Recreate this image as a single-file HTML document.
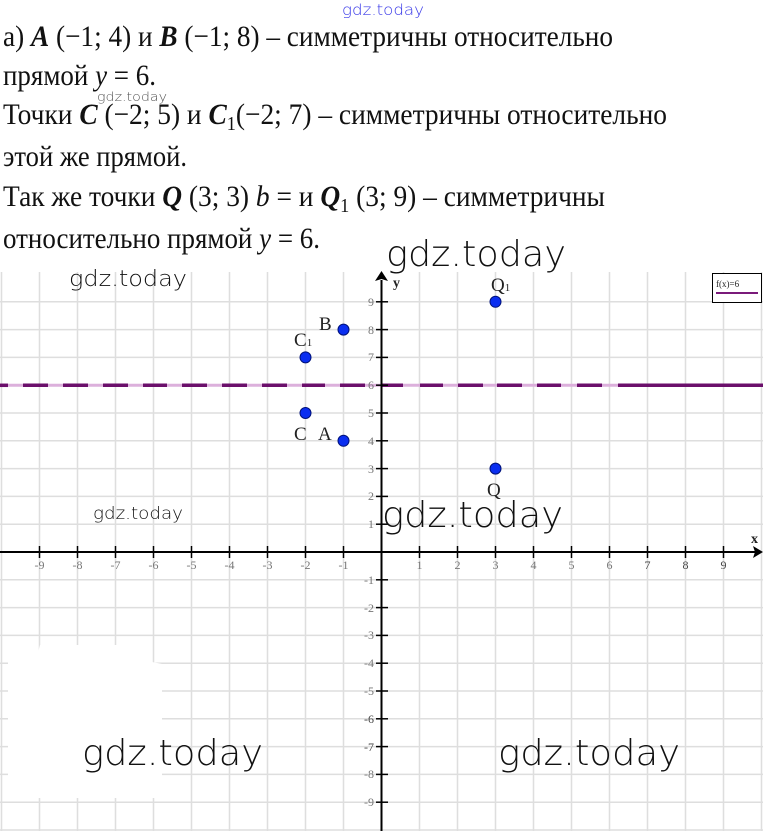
<!DOCTYPE html>
<html><head><meta charset="utf-8"><style>
html,body{margin:0;padding:0;background:#fff;}
svg{display:block;}
.t{font-family:"Liberation Serif","DejaVu Serif",serif;font-size:30px;fill:#111;}
.bi{font-weight:bold;font-style:italic;}
.it{font-style:italic;}
.wm{font-family:"DejaVu Sans","Liberation Sans",sans-serif;font-weight:200;fill:#111;}
.lab{font-family:"Liberation Serif","DejaVu Serif",serif;font-size:12px;fill:#777;}
.pl{font-family:"Liberation Serif","DejaVu Serif",serif;font-size:19px;fill:#222;}
</style></head><body>
<svg width="763" height="831" viewBox="0 0 763 831" xmlns="http://www.w3.org/2000/svg">
<rect width="763" height="831" fill="#fff"/>
<g stroke="#dedede" stroke-width="1.5">
<line x1="1.5" y1="272" x2="1.5" y2="831"/><line x1="39.5" y1="272" x2="39.5" y2="831"/><line x1="77.5" y1="272" x2="77.5" y2="831"/><line x1="115.5" y1="272" x2="115.5" y2="831"/><line x1="153.5" y1="272" x2="153.5" y2="831"/><line x1="191.5" y1="272" x2="191.5" y2="831"/><line x1="229.5" y1="272" x2="229.5" y2="831"/><line x1="267.5" y1="272" x2="267.5" y2="831"/><line x1="305.5" y1="272" x2="305.5" y2="831"/><line x1="343.5" y1="272" x2="343.5" y2="831"/><line x1="419.5" y1="272" x2="419.5" y2="831"/><line x1="457.5" y1="272" x2="457.5" y2="831"/><line x1="495.5" y1="272" x2="495.5" y2="831"/><line x1="533.5" y1="272" x2="533.5" y2="831"/><line x1="571.5" y1="272" x2="571.5" y2="831"/><line x1="609.5" y1="272" x2="609.5" y2="831"/><line x1="647.5" y1="272" x2="647.5" y2="831"/><line x1="685.5" y1="272" x2="685.5" y2="831"/><line x1="723.5" y1="272" x2="723.5" y2="831"/><line x1="761.5" y1="272" x2="761.5" y2="831"/>
<line x1="0" y1="301.8" x2="763" y2="301.8"/><line x1="0" y1="329.6" x2="763" y2="329.6"/><line x1="0" y1="357.4" x2="763" y2="357.4"/><line x1="0" y1="413" x2="763" y2="413"/><line x1="0" y1="440.8" x2="763" y2="440.8"/><line x1="0" y1="468.6" x2="763" y2="468.6"/><line x1="0" y1="496.4" x2="763" y2="496.4"/><line x1="0" y1="524.2" x2="763" y2="524.2"/><line x1="0" y1="579.8" x2="763" y2="579.8"/><line x1="0" y1="607.6" x2="763" y2="607.6"/><line x1="0" y1="635.4" x2="763" y2="635.4"/><line x1="0" y1="663.2" x2="763" y2="663.2"/><line x1="0" y1="691" x2="763" y2="691"/><line x1="0" y1="718.8" x2="763" y2="718.8"/><line x1="0" y1="746.6" x2="763" y2="746.6"/><line x1="0" y1="774.4" x2="763" y2="774.4"/><line x1="0" y1="802.2" x2="763" y2="802.2"/><line x1="0" y1="830" x2="763" y2="830"/>
</g>
<polygon points="8,662 36,660 40,645 150,645 152,662 162,664 162,798 8,798" fill="#fff"/>
<line x1="0" y1="385.3" x2="763" y2="385.3" stroke="#dcb0dc" stroke-width="3"/>
<g stroke="#6b0f6b" stroke-width="3.5">
<line x1="0" y1="385.3" x2="8" y2="385.3"/><line x1="23" y1="385.3" x2="48" y2="385.3"/><line x1="63" y1="385.3" x2="88" y2="385.3"/><line x1="103" y1="385.3" x2="128" y2="385.3"/><line x1="143" y1="385.3" x2="167" y2="385.3"/><line x1="182" y1="385.3" x2="207" y2="385.3"/><line x1="222" y1="385.3" x2="247" y2="385.3"/><line x1="262" y1="385.3" x2="287" y2="385.3"/><line x1="302" y1="385.3" x2="325" y2="385.3"/><line x1="340" y1="385.3" x2="365" y2="385.3"/><line x1="382" y1="385.3" x2="403" y2="385.3"/><line x1="420" y1="385.3" x2="443" y2="385.3"/><line x1="458" y1="385.3" x2="483" y2="385.3"/><line x1="497" y1="385.3" x2="522" y2="385.3"/><line x1="537" y1="385.3" x2="561" y2="385.3"/><line x1="577" y1="385.3" x2="602" y2="385.3"/><line x1="618" y1="385.3" x2="763" y2="385.3"/>
</g>
<g stroke="#000" stroke-width="2">
<line x1="0" y1="552" x2="756" y2="552"/>
<line x1="381.5" y1="831" x2="381.5" y2="280"/>
</g>
<polygon points="763,552 753,546 755,552 753,558" fill="#000"/>
<polygon points="381.5,271 375,281 381.5,279 388,281" fill="#000"/>
<g stroke="#000" stroke-width="1.5">
<line x1="39.5" y1="546" x2="39.5" y2="558"/><line x1="77.5" y1="546" x2="77.5" y2="558"/><line x1="115.5" y1="546" x2="115.5" y2="558"/><line x1="153.5" y1="546" x2="153.5" y2="558"/><line x1="191.5" y1="546" x2="191.5" y2="558"/><line x1="229.5" y1="546" x2="229.5" y2="558"/><line x1="267.5" y1="546" x2="267.5" y2="558"/><line x1="305.5" y1="546" x2="305.5" y2="558"/><line x1="343.5" y1="546" x2="343.5" y2="558"/><line x1="419.5" y1="546" x2="419.5" y2="558"/><line x1="457.5" y1="546" x2="457.5" y2="558"/><line x1="495.5" y1="546" x2="495.5" y2="558"/><line x1="533.5" y1="546" x2="533.5" y2="558"/><line x1="571.5" y1="546" x2="571.5" y2="558"/><line x1="609.5" y1="546" x2="609.5" y2="558"/><line x1="647.5" y1="546" x2="647.5" y2="558"/><line x1="685.5" y1="546" x2="685.5" y2="558"/><line x1="723.5" y1="546" x2="723.5" y2="558"/>
<line x1="376" y1="301.8" x2="388" y2="301.8"/><line x1="376" y1="329.6" x2="388" y2="329.6"/><line x1="376" y1="357.4" x2="388" y2="357.4"/><line x1="376" y1="385.2" x2="388" y2="385.2"/><line x1="376" y1="413" x2="388" y2="413"/><line x1="376" y1="440.8" x2="388" y2="440.8"/><line x1="376" y1="468.6" x2="388" y2="468.6"/><line x1="376" y1="496.4" x2="388" y2="496.4"/><line x1="376" y1="524.2" x2="388" y2="524.2"/><line x1="376" y1="579.8" x2="388" y2="579.8"/><line x1="376" y1="607.6" x2="388" y2="607.6"/><line x1="376" y1="635.4" x2="388" y2="635.4"/><line x1="376" y1="663.2" x2="388" y2="663.2"/><line x1="376" y1="691" x2="388" y2="691"/><line x1="376" y1="718.8" x2="388" y2="718.8"/><line x1="376" y1="746.6" x2="388" y2="746.6"/><line x1="376" y1="774.4" x2="388" y2="774.4"/><line x1="376" y1="802.2" x2="388" y2="802.2"/>
</g>
<g class="lab" text-anchor="middle">
<text x="39.5" y="569">-9</text><text x="77.5" y="569">-8</text><text x="115.5" y="569">-7</text><text x="153.5" y="569">-6</text><text x="191.5" y="569">-5</text><text x="229.5" y="569">-4</text><text x="267.5" y="569">-3</text><text x="305.5" y="569">-2</text><text x="343.5" y="569">-1</text>
<text x="419.5" y="569">1</text><text x="457.5" y="569">2</text><text x="495.5" y="569">3</text><text x="533.5" y="569">4</text><text x="571.5" y="569">5</text><text x="609.5" y="569">6</text><text x="647.5" y="569" fill="#444">7</text><text x="685.5" y="569" fill="#444">8</text><text x="723.5" y="569" fill="#444">9</text>
</g>
<g class="lab" text-anchor="end">
<text x="374" y="306">9</text><text x="374" y="334">8</text><text x="374" y="361">7</text><text x="374" y="389">6</text><text x="374" y="417">5</text><text x="374" y="445">4</text><text x="374" y="473">3</text><text x="374" y="500">2</text><text x="374" y="528">1</text>
<text x="374" y="584">-1</text><text x="374" y="612">-2</text><text x="374" y="639">-3</text><text x="374" y="667">-4</text><text x="374" y="695">-5</text><text x="374" y="723" fill="#444">-6</text><text x="374" y="751" fill="#444">-7</text><text x="374" y="778">-8</text><text x="374" y="806">-9</text>
</g>
<text x="393" y="287" font-family="Liberation Serif,serif" font-weight="bold" font-size="14" fill="#222">y</text>
<text x="751" y="543" font-family="Liberation Serif,serif" font-weight="bold" font-size="14" fill="#222">x</text>
<rect x="712.5" y="273.5" width="49" height="29" fill="#fff" stroke="#000" stroke-width="1"/>
<text x="716" y="287" font-family="Liberation Serif,serif" font-size="9" fill="#222">f(x)=6</text>
<line x1="716" y1="293" x2="758" y2="293" stroke="#7a1a7a" stroke-width="2"/>
<g fill="#0a2ef0" stroke="#00127a" stroke-width="1">
<circle cx="343.5" cy="440.8" r="5.5"/><circle cx="343.5" cy="329.6" r="5.5"/><circle cx="305.5" cy="413" r="5.5"/><circle cx="305.5" cy="357.4" r="5.5"/><circle cx="495.5" cy="468.6" r="5.5"/><circle cx="495.5" cy="301.8" r="5.5"/>
</g>
<text class="pl" x="319" y="330">B</text>
<text class="pl" x="294" y="346" fill="#333">C<tspan font-size="11">1</tspan></text>
<text class="pl" x="294" y="440" fill="#333">C</text>
<text class="pl" x="318" y="440">A</text>
<text class="pl" x="491" y="291">Q<tspan font-size="11">1</tspan></text>
<text class="pl" x="487" y="496" fill="#777">Q</text>
<text class="t" x="3" y="46" textLength="610" lengthAdjust="spacingAndGlyphs">а) <tspan class="bi">A</tspan> (−1; 4) и <tspan class="bi">B</tspan> (−1; 8) – симметричны относительно</text>
<text class="t" x="3" y="85" textLength="153" lengthAdjust="spacingAndGlyphs">прямой <tspan class="it">y</tspan> = 6.</text>
<text class="t" x="3" y="124" textLength="664" lengthAdjust="spacingAndGlyphs">Точки <tspan class="bi">C</tspan> (−2; 5) и <tspan class="bi">C</tspan><tspan font-size="20" dy="6">1</tspan><tspan dy="-6">(−2; 7) – симметричны относительно</tspan></text>
<text class="t" x="3" y="166" textLength="184" lengthAdjust="spacingAndGlyphs">этой же прямой.</text>
<text class="t" x="3" y="206" textLength="602" lengthAdjust="spacingAndGlyphs">Так же точки <tspan class="bi">Q</tspan> (3; 3) <tspan class="it">b</tspan> = и <tspan class="bi">Q</tspan><tspan font-size="20" dy="6">1</tspan><tspan dy="-6"> (3; 9) – симметричны</tspan></text>
<text class="t" x="3" y="248" textLength="317" lengthAdjust="spacingAndGlyphs">относительно прямой <tspan class="it">y</tspan> = 6.</text>
<text class="wm" x="342" y="15" font-size="15" style="fill:#3a3ae8" textLength="82" lengthAdjust="spacingAndGlyphs">gdz.today</text>
<text class="wm" x="97" y="101" font-size="12" style="fill:#555" textLength="70" lengthAdjust="spacingAndGlyphs">gdz.today</text>
<text class="wm" x="386" y="266" font-size="36" textLength="180" lengthAdjust="spacingAndGlyphs">gdz.today</text>
<text class="wm" x="69" y="286" font-size="22" textLength="118" lengthAdjust="spacingAndGlyphs">gdz.today</text>
<text class="wm" x="93" y="519" font-size="17" textLength="90" lengthAdjust="spacingAndGlyphs">gdz.today</text>
<text class="wm" x="382" y="527" font-size="36" textLength="181" lengthAdjust="spacingAndGlyphs">gdz.today</text>
<text class="wm" x="82" y="765" font-size="36" textLength="181" lengthAdjust="spacingAndGlyphs">gdz.today</text>
<text class="wm" x="498" y="765" font-size="36" textLength="182" lengthAdjust="spacingAndGlyphs">gdz.today</text>
</svg>
</body></html>
